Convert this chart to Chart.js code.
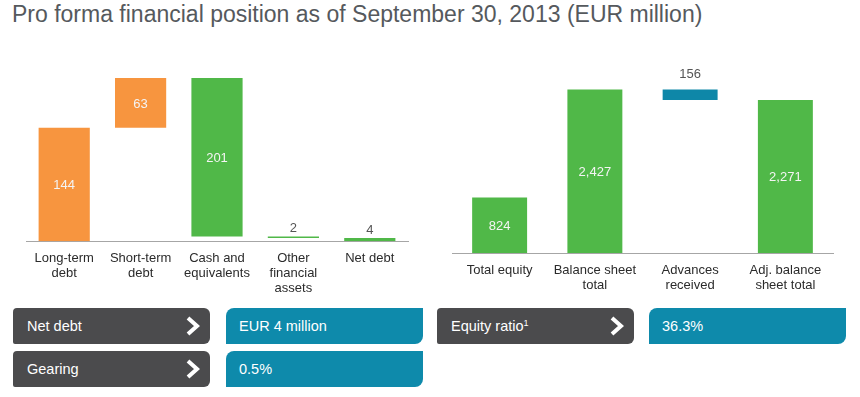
<!DOCTYPE html>
<html>
<head>
    <title>Pro forma financial position</title>
    <script src="https://cdn.jsdelivr.net/npm/chart.js"></script>
    <style>
        body {
            margin: 0;
            width: 860px;
            height: 397px;
            background: #fff;
            font-family: 'Liberation Sans', Arial, sans-serif;
            position: relative;
            overflow: hidden;
        }
        h1 {
            position: absolute;
            left: 12px;
            top: 1px;
            margin: 0;
            font-size: 23px;
            font-weight: normal;
            color: #55595d;
            white-space: nowrap;
        }
        .wrap {
            position: absolute;
            top: 50px;
            width: 430px;
            height: 260px;
        }
        .box {
            position: absolute;
            height: 36px;
            line-height: 36px;
            color: #fff;
            font-size: 14.5px;
            box-sizing: border-box;
        }
        .dark {
            background: #4b4b4d;
            border-radius: 4px 6px 6px 2px;
            width: 197px;
            padding-left: 14px;
        }
        .teal {
            background: #0e8aab;
            border-radius: 8px 0 8px 0;
            width: 197px;
            padding-left: 13px;
        }
        .dark svg {
            position: absolute;
            right: 9px;
            top: 8px;
        }
        sup { font-size: 9px; line-height: 0; vertical-align: 5px; }
    </style>
</head>
<body>
    <h1>Pro forma financial position as of September 30, 2013 (EUR million)</h1>

    <div class="wrap" style="left:0"><canvas id="debtChart"></canvas></div>
    <div class="wrap" style="left:430px"><canvas id="equityChart"></canvas></div>

    <div class="box dark" style="left:13px;top:308px">Net debt
        <svg width="16" height="20"><polyline points="3,2 12,10 3,18" fill="none" stroke="#fff" stroke-width="4"/></svg></div>
    <div class="box teal" style="left:226px;top:308px">EUR 4 million</div>
    <div class="box dark" style="left:13px;top:351px">Gearing
        <svg width="16" height="20"><polyline points="3,2 12,10 3,18" fill="none" stroke="#fff" stroke-width="4"/></svg></div>
    <div class="box teal" style="left:226px;top:351px">0.5%</div>
    <div class="box dark" style="left:437px;top:308px">Equity ratio<sup>1</sup>
        <svg width="16" height="20"><polyline points="3,2 12,10 3,18" fill="none" stroke="#fff" stroke-width="4"/></svg></div>
    <div class="box teal" style="left:649px;top:308px">36.3%</div>

    <script>
        // net debt bridge
        const debtLabels = [['Long-term', 'debt'], ['Short-term', 'debt'], ['Cash and', 'equivalents'], ['Other', 'financial', 'assets'], ['Net debt']];
        const debtValues = [144, 63, 201, 2, 4];
        const debtSteps = ['up', 'up', 'down', 'down', 'total'];
        const debtColors = ['#f7953f', '#f7953f', '#50b848', '#50b848', '#50b848'];

        // equity ratio bridge
        const eqLabels = ['Total equity', ['Balance sheet', 'total'], ['Advances', 'received'], ['Adj. balance', 'sheet total']];
        const eqValues = [824, 2427, 156, 2271];
        const eqSteps = ['total', 'total', 'down', 'total'];
        const eqColors = ['#50b848', '#50b848', '#0e87a8', '#50b848'];

        // turn steps into floating [from, to] pairs
        function bridge(values, steps) {
            let run = 0;
            return values.map((v, i) => {
                if (steps[i] === 'up') { run += v; return [run - v, run]; }
                if (steps[i] === 'down') { run -= v; return [run, run + v]; }
                run = v;
                return [0, v];
            });
        }

        const valueLabels = {
            id: 'valueLabels',
            afterDatasetsDraw(chart, args, opts) {
                const ctx = chart.ctx;
                const meta = chart.getDatasetMeta(0);
                const vals = chart.data.datasets[0].values;
                ctx.save();
                ctx.font = '13px "Liberation Sans", Arial, sans-serif';
                ctx.textAlign = 'center';
                ctx.textBaseline = 'middle';
                meta.data.forEach((bar, i) => {
                    const p = bar.getProps(['x', 'y', 'base'], true);
                    const top = Math.min(p.y, p.base);
                    const bottom = Math.max(p.y, p.base);
                    const text = vals[i].toLocaleString('en-US');
                    if (bottom - top > 20) {
                        ctx.fillStyle = '#f4f4f4';
                        ctx.fillText(text, p.x, (top + bottom) / 2 + 1);
                    } else {
                        ctx.fillStyle = '#555';
                        ctx.fillText(text, p.x, top - opts.gap);
                    }
                });
                ctx.restore();
            }
        };

        function makeChart(id, labels, values, steps, colors, cfg) {
            return new Chart(document.getElementById(id), {
                type: 'bar',
                data: {
                    labels: labels,
                    datasets: [{
                        data: bridge(values, steps),
                        values: values,
                        backgroundColor: colors,
                        barPercentage: cfg.bar,
                        categoryPercentage: 1
                    }]
                },
                options: {
                    responsive: true,
                    maintainAspectRatio: false,
                    animation: false,
                    layout: { padding: cfg.padding },
                    plugins: {
                        legend: { display: false },
                        tooltip: { enabled: false },
                        valueLabels: { gap: cfg.gap }
                    },
                    scales: {
                        x: {
                            grid: { display: false, drawTicks: false },
                            border: { color: '#a6a6a6', width: 1 },
                            ticks: {
                                color: '#2b2b2b',
                                padding: 10,
                                maxRotation: 0,
                                font: { family: '"Liberation Sans", Arial, sans-serif', size: 13, lineHeight: 1.15 }
                            }
                        },
                        y: { display: false, min: 0, max: cfg.max }
                    }
                },
                plugins: [valueLabels]
            });
        }

        makeChart('debtChart', debtLabels, debtValues, debtSteps, debtColors,
            { bar: 0.67, max: 230, gap: 8, padding: { left: 26, right: 22, top: 10, bottom: 4 } });
        makeChart('equityChart', eqLabels, eqValues, eqSteps, eqColors,
            { bar: 0.577, max: 2700, gap: 15, padding: { left: 22, right: 27, top: 21, bottom: 7 } });
    </script>
</body>
</html>
